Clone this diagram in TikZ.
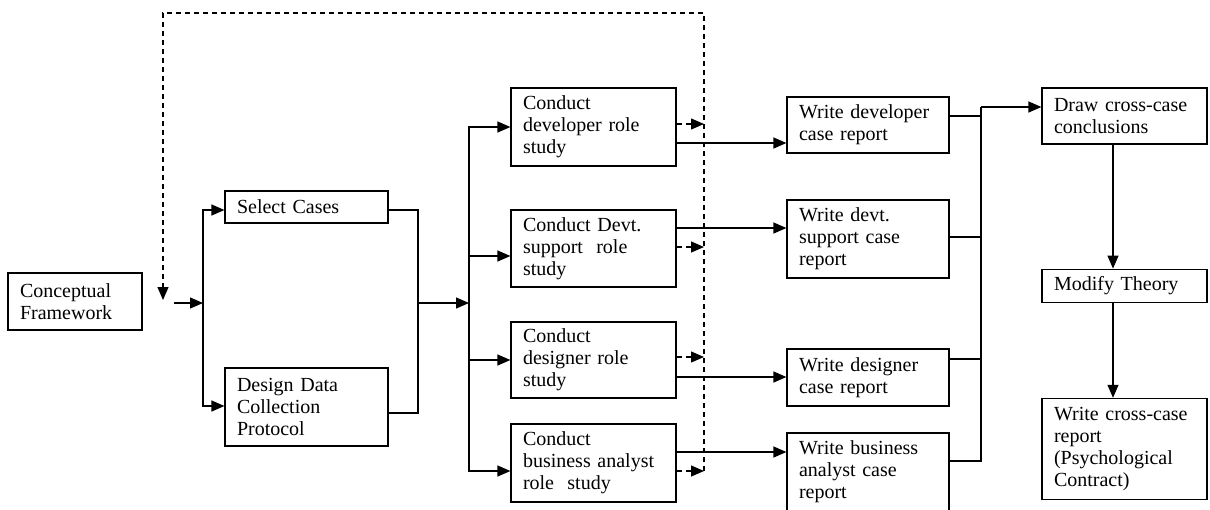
\documentclass[tikz,border=0pt]{standalone}
\usepackage{fontspec}
\setmainfont{Liberation Serif}
\usepackage{tikz}
\usetikzlibrary{arrows.meta, positioning}

\begin{document}
\begin{tikzpicture}[
    x=0.5pt, y=-0.5pt,
    arr/.style={-{Triangle[length=6.5pt,width=5.5pt]}, line width=0.6pt},
    dasharr/.style={-{Triangle[length=6.5pt,width=5.5pt]}, line width=0.6pt, dash pattern=on 2.5pt off 2pt},
    ln/.style={line width=0.6pt},
    box/.style={draw, rectangle, line width=0.6pt, align=left, inner xsep=6pt,
                inner ysep=1pt, font=\fontsize{10}{11}\selectfont},
]
\useasboundingbox (0,0) rectangle (1210,509);

\node[box, text width=55pt, minimum height=28.5pt] (cf) at (75,301.5) {Conceptual\\Framework};
\node[box, text width=69.5pt, minimum height=16pt] (sel) at (306.5,207) {Select Cases};
\node[box, text width=69.5pt, minimum height=39pt] (ddc) at (306.5,407) {Design Data\\Collection\\Protocol};

\node[box, text width=70.5pt, minimum height=39pt] (c1) at (593.5,127) {Conduct\\developer role\\study};
\node[box, text width=70.5pt, minimum height=38.5pt] (c2) at (593.5,248.5) {Conduct Devt.\\support\ \ role\\study};
\node[box, text width=70.5pt, minimum height=38pt] (c3) at (593.5,360) {Conduct\\designer role\\study};
\node[box, text width=70.5pt, minimum height=39pt] (c4) at (593.5,463) {Conduct\\business analyst\\role\ \ study};

\node[box, text width=69pt, minimum height=28pt] (w1) at (868,125) {Write developer\\case report};
\node[box, text width=69pt, minimum height=39pt] (w2) at (868,239) {Write devt.\\support case\\report};
\node[box, text width=69pt, minimum height=28.5pt] (w3) at (868,377.5) {Write designer\\case report};
\node[box, text width=69pt, minimum height=39pt] (w4) at (868,472) {Write business\\analyst case\\report};

\node[box, text width=70.5pt, minimum height=28pt] (dcc) at (1124.5,116) {Draw cross-case\\conclusions};
\node[box, text width=70.5pt, minimum height=16.5pt, below=62pt of dcc] (mt) {Modify Theory};
\node[box, text width=70.5pt, minimum height=50.5pt, below=47.5pt of mt] (wcc) {Write cross-case\\report\\(Psychological\\Contract)};

\coordinate (split1) at (203,303);
\coordinate (merge1) at (418,303);
\coordinate (split2) at (469,303);
\coordinate (fbtop) at (704,13);
\coordinate (fbend) at (163,300);
\coordinate (merge2) at (981,107);

% into the two set-up steps
\draw[arr] ([xshift=15.5pt,yshift=-0.75pt]cf.east) -- (split1);
\draw[arr] (split1) |- ([yshift=-1.5pt]sel.west);
\draw[arr] (split1) |- ([yshift=0.5pt]ddc.west);
\draw[ln] ([yshift=-1.5pt]sel.east) -| (merge1);
\draw[ln] ([yshift=-3pt]ddc.east) -| (merge1);
\draw[arr] (merge1) -- (split2);

% the four role studies
\draw[arr] (split2) |- (c1.west);
\draw[arr] (split2) |- ([yshift=-3.75pt]c2.west);
\draw[arr] (split2) |- (c3.west);
\draw[arr] (split2) |- ([yshift=-4pt]c4.west);

\draw[arr] ([yshift=-8pt]c1.east) -- ([yshift=-8pt]c1.east -| w1.west);
\draw[arr] ([yshift=10.25pt]c2.east) -- ([yshift=10.25pt]c2.east -| w2.west);
\draw[arr] ([yshift=-8.5pt]c3.east) -- ([yshift=-8.5pt]c3.east -| w3.west);
\draw[arr] ([yshift=5.5pt]c4.east) -- ([yshift=5.5pt]c4.east -| w4.west);

% feedback
\draw[dasharr] ([yshift=1.5pt]c1.east) -- ([yshift=1.5pt]c1.east -| fbtop);
\draw[dasharr] ([yshift=0.75pt]c2.east) -- ([yshift=0.75pt]c2.east -| fbtop);
\draw[dasharr] ([yshift=1.5pt]c3.east) -- ([yshift=1.5pt]c3.east -| fbtop);
\draw[dasharr] ([yshift=-4pt]c4.east) -- ([yshift=-4pt]c4.east -| fbtop);
\draw[dasharr] ([yshift=-4pt]c4.east -| fbtop) -- (fbtop) -| (fbend);

% cross-case
\draw[ln] ([yshift=4.5pt]w1.east) -| (merge2);
\draw[ln] ([yshift=1pt]w2.east) -| (merge2);
\draw[ln] ([yshift=9.25pt]w3.east) -| (merge2);
\draw[ln] ([yshift=5.5pt]w4.east) -| (merge2);
\draw[arr] (merge2) -- (merge2 -| dcc.west);
\draw[arr] ([xshift=-5.75pt]dcc.south) -- ([xshift=-5.75pt]mt.north);
\draw[arr] ([xshift=-5.75pt]mt.south) -- ([xshift=-5.75pt]wcc.north);
\end{tikzpicture}
\end{document}
